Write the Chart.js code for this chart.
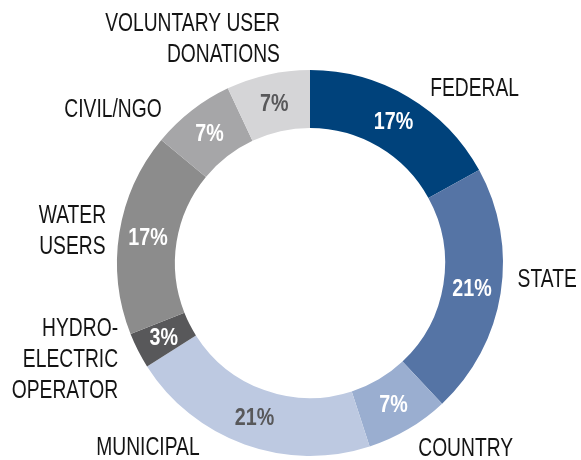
<!DOCTYPE html>
<html>
<head>
<meta charset="utf-8">
<script src="https://cdn.jsdelivr.net/npm/chart.js@4/dist/chart.umd.min.js"></script>
<style>
html,body{margin:0;padding:0;background:#fff;}
#wrap{width:581px;height:460px;position:relative;}
</style>
</head>
<body>
<div id="wrap"><canvas id="c" width="581" height="460"></canvas></div>
<script>
// ---- data ----
const categories = ["FEDERAL", "STATE", "COUNTRY", "MUNICIPAL", "HYDRO-\nELECTRIC\nOPERATOR", "WATER\nUSERS", "CIVIL/NGO", "VOLUNTARY USER\nDONATIONS"];
const shares = [17, 21, 7, 21, 3, 17, 7, 7];
const percentLabels = ["17%", "21%", "7%", "21%", "3%", "17%", "7%", "7%"];

// ---- styles ----
const sliceColors = ["#00427b", "#5574a5", "#9aaed0", "#bdc9e1", "#58585a", "#8c8c8c", "#a6a6a8", "#d5d5d7"];
const pctColors = ["#ffffff", "#ffffff", "#ffffff", "#58585a", "#ffffff", "#ffffff", "#ffffff", "#58585a"];
// label nudges relative to the arc's outer mid point: [dx, dy, align]
const labelNudge = [[22,-9,"left"],[17,-14,"left"],[10,19,"left"],[-45,3,"right"],[-20,8,"right"],[-47,-2,"center"],[-30,-1,"right"],[12,-36,"right"]];
const FONT = "'Liberation Sans',Arial,sans-serif";

function scaledText(ctx, text, x, y, sx) {
  ctx.save();
  ctx.translate(x, y);
  ctx.scale(sx, 1);
  ctx.fillText(text, 0, 0);
  ctx.restore();
}

const labelPlugin = {
  id: 'labels',
  afterDatasetsDraw(chart) {
    const ctx = chart.ctx;
    const meta = chart.getDatasetMeta(0);
    meta.data.forEach((arc, i) => {
      const p = arc.getProps(['x','y','startAngle','endAngle','innerRadius','outerRadius'], true);
      const mid = (p.startAngle + p.endAngle) / 2;
      const rMid = (p.innerRadius + p.outerRadius) / 2;
      ctx.save();
      ctx.textAlign = 'center';
      ctx.textBaseline = 'middle';
      ctx.font = "bold 24px " + FONT;
      ctx.fillStyle = pctColors[i];
      scaledText(ctx, percentLabels[i], p.x + rMid * Math.cos(mid), p.y + rMid * Math.sin(mid) + 1, 0.82);
      // category label
      const ox = p.x + p.outerRadius * Math.cos(mid);
      const oy = p.y + p.outerRadius * Math.sin(mid);
      const [dx, dy, align] = labelNudge[i];
      const lines = categories[i].split("\n");
      const lh = 31;
      ctx.font = "25px " + FONT;
      ctx.fillStyle = "#141414";
      ctx.textAlign = align;
      const y0 = oy + dy - (lines.length - 1) * lh / 2;
      lines.forEach((ln, k) => scaledText(ctx, ln, ox + dx, y0 + k * lh + 1, 0.77));
      ctx.restore();
    });
  }
};

new Chart(document.getElementById('c'), {
  type: 'doughnut',
  data: {
    labels: categories,
    datasets: [{ data: shares, backgroundColor: sliceColors, borderWidth: 0 }]
  },
  options: {
    responsive: false,
    animation: false,
    cutout: '70%',
    layout: { padding: { top: 70, bottom: 4, left: 117, right: 78 } },
    plugins: { legend: { display: false }, tooltip: { enabled: false } }
  },
  plugins: [labelPlugin]
});
</script>
</body>
</html>
